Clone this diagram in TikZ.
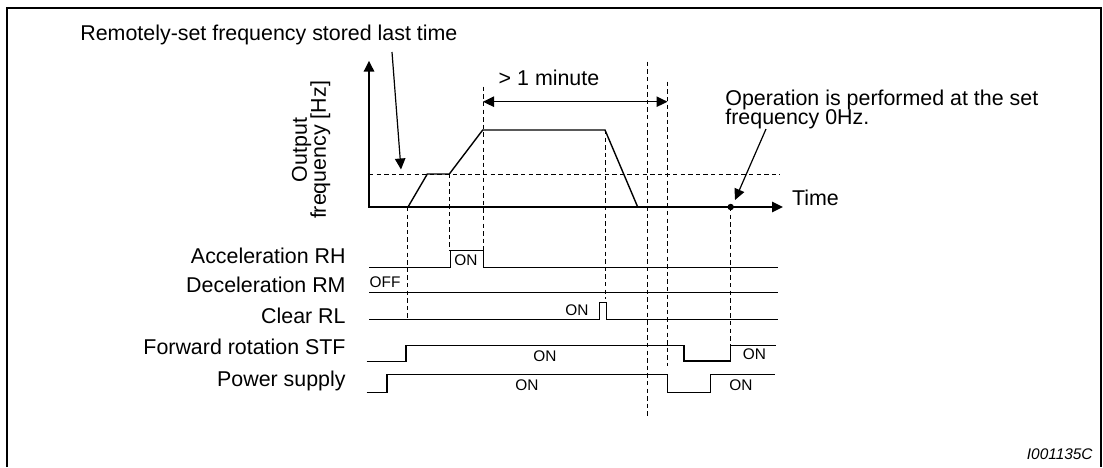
\documentclass[tikz,border=0pt]{standalone}
\usepackage{fontspec}
\setmainfont{Liberation Sans}
\usetikzlibrary{arrows.meta}
\setlength{\lineskiplimit}{-20pt}

\begin{document}
\begin{tikzpicture}[
  x=0.5pt, y=-0.5pt,
  >={Triangle[length=5.5pt, width=5.2pt]},
  frame/.style={line width=1pt},
  axis/.style={line width=1pt},
  curve/.style={line width=0.7pt},
  sig/.style={line width=0.65pt},
  guide/.style={line width=0.5pt, dash pattern=on 2.2pt off 1.6pt},
  ann/.style={->, line width=0.6pt},
  lbl/.style={font=\fontsize{10.7}{12}\selectfont, inner sep=0pt},
  tight/.style={font=\fontsize{10.7}{9.5}\selectfont},
  sml/.style={font=\fontsize{7.7}{9}\selectfont, inner sep=0pt},
]
\useasboundingbox (0,0) rectangle (1103,467);
\draw[frame] (7,467) -- (7,7.5) -- (1101,7.5) -- (1101,467);

% --- axes and frequency curve ---
\coordinate (orig) at (369,207);
\coordinate (ytop) at (369,60.7);
\coordinate (xend) at (783,207);
\draw[axis,<->] (ytop) |- (xend);
\node[lbl, tight, rotate=90, align=center] (ylab) at (311,150) {Output\\frequency [Hz]};
\node[lbl, anchor=base west] (time) at (791.7,205) {Time};

\draw[guide] (369,174) -- (780,174);
\draw[curve] (408,207) -- (427.3,174) -- (449.3,174) -- (482.7,130)
  -- (605,130) -- (637.7,207);

% guide lines
\draw[guide] (407,207) -- (407,319);
\draw[guide] (449,174) -- (449,251);
\draw[guide] (483,86.7) -- (483,251);
\draw[guide] (605,130) -- (605,299);
\draw[guide] (647,61.7) -- (647,418.3);
\draw[guide] (667.5,81.7) -- (667.5,366);
\draw[guide] (730.7,207) -- (730.7,345);

% > 1 minute
\coordinate (mina) at (483,101.7);
\coordinate (minb) at (667.5,101.7);
\draw[<->, line width=0.7pt] (mina) -- (minb);
\node[lbl, anchor=base] (minlab) at (549,85) {> 1 minute};

% --- annotations ---
\node[lbl, anchor=base west] (remtxt) at (80,40) {Remotely-set frequency stored last time};
\coordinate (remfrom) at (392,52);
\coordinate (remto) at (401,169.5);
\draw[ann] (remfrom) -- (remto);

\node[lbl, tight, anchor=base west, align=left] (optxt) at (725,124)
  {Operation is performed at the set\\frequency 0Hz.};
\coordinate (opfrom) at (766,129);
\coordinate (opto) at (735,200);
\draw[ann] (opfrom) -- (opto);
\fill (730.7,207) circle (1.6pt);

% --- signals ---
\node[lbl, anchor=base east] (rh) at (346,263.3) {Acceleration RH};
\node[lbl, anchor=base east] (rm) at (346,292.8) {Deceleration RM};
\node[lbl, anchor=base east] (rl) at (346,323) {Clear RL};
\node[lbl, anchor=base east] (stf) at (346,354) {Forward rotation STF};
\node[lbl, anchor=base east] (pwr) at (346,386) {Power supply};

\draw[sig] (369.3,267.3) -- (450.3,267.3) -- (450.3,250.7) -- (483.7,250.7)
  -- (483.7,267.3) -- (777.5,267.3);
\draw[sig] (369.3,292.3) -- (777.5,292.3);
\draw[sig] (369.3,319.3) -- (599.7,319.3) -- (599.7,302.7) -- (606.7,302.7)
  -- (606.7,319.3) -- (777.5,319.3);
\draw[sig] (366.7,361.7) -- (406,361.7) -- (406,345.5) -- (684,345.5)
  -- (684,361) -- (730.7,361) -- (730.7,345.5) -- (775.5,345.5);
\draw[sig] (366.7,392.3) -- (387,392.3) -- (387,374.3) -- (667.5,374.3)
  -- (667.5,392.3) -- (710.5,392.3) -- (710.5,374.3) -- (775,374.3);

\node[sml, anchor=base] (rhon) at (466,265) {ON};
\node[sml, anchor=base west] (rmoff) at (369.3,287.3) {OFF};
\node[sml, anchor=base] (rlon) at (577,315) {ON};
\node[sml, anchor=base] (stfon) at (545,361.7) {ON};
\node[sml, anchor=base] (stfon2) at (754.5,359.5) {ON};
\node[sml, anchor=base] (pwron) at (527,390) {ON};
\node[sml, anchor=base] (pwron2) at (741,390) {ON};

\node[sml, anchor=base east, font=\fontsize{7.7}{9}\selectfont\itshape] (figid) at (1093,459) {I001135C};
\end{tikzpicture}
\end{document}
